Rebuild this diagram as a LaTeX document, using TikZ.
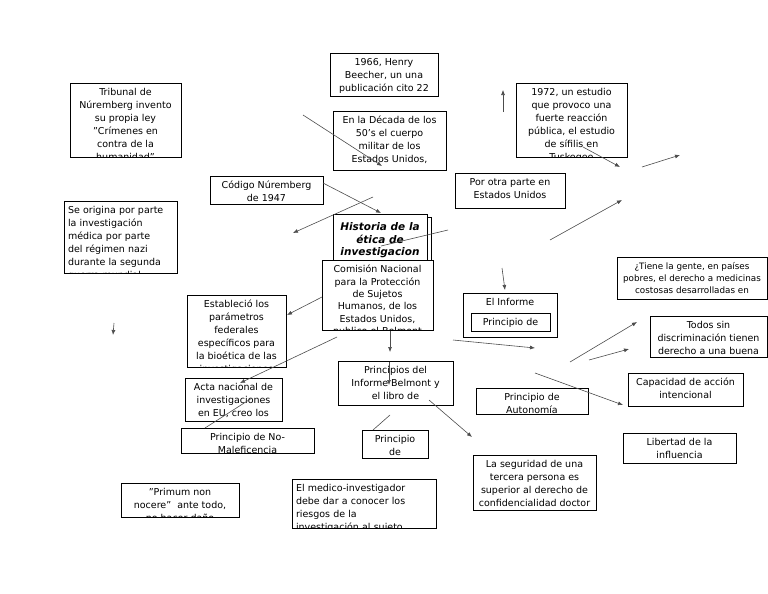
\documentclass[tikz,border=0pt]{standalone}
\usepackage{fontspec}
\setmainfont{DejaVu Sans}
\usetikzlibrary{arrows.meta}
\tikzset{
  boxframe/.style={draw=black, line width=0.9pt, inner sep=0pt, outer sep=0pt},
  txt/.style={inner sep=0pt, font=\fontsize{9.5}{13}\selectfont, align=center, anchor=north},
  conn/.style={draw=black!70, line width=0.6pt, -{Latex[length=5pt,width=4pt]}},
  plain/.style={draw=black!70, line width=0.6pt}
}
\newcommand\bx[7][]{%
  \pgfmathsetmacro\bw{#5-#3}\pgfmathsetmacro\bh{#6-#4}%
  \pgfmathsetmacro\bcx{(#3+#5)/2}\pgfmathsetmacro\bcy{(#4+#6)/2}%
  \pgfmathsetmacro\btw{#5-#3-8}\pgfmathsetmacro\bty{#4+3.5}%
  \fill[white] (#3,#4) rectangle (#5,#6);
  \begin{scope}
    \clip (#3,#4) rectangle (#5,#6);
    \node[txt,#1] at (\bcx,\bty) {\rule{0pt}{9pt}#7};
  \end{scope}
  \node[boxframe, minimum width=\bw pt, minimum height=\bh pt] (#2) at (\bcx,\bcy) {};
}
\begin{document}
\begin{tikzpicture}[x=1pt,y=-1pt]
\useasboundingbox (0,0) rectangle (768,594);

\bx{trib}{70}{83}{181}{157}{Tribunal de\\Núremberg invento\\su propia ley\\"Crímenes en\\contra de la\\humanidad"}
\bx{y1966}{330}{53}{438}{96}{1966, Henry\\Beecher, un una\\publicación cito 22}
\bx{dec}{333}{111}{446}{170}{En la Década de los\\50's el cuerpo\\militar de los\\Estados Unidos,}
\bx{y1972}{516}{83}{627}{157}{1972, un estudio\\que provoco una\\fuerte reacción\\pública, el estudio\\de sífilis en\\Tuskegee}
\bx[align=left, text width=\btw pt]{orig}{64}{201}{177}{273}{Se origina por parte\\la investigación\\médica por parte\\del régimen nazi\\durante la segunda\\guerra mundial}
\bx{cod}{210}{176}{323}{204}{Código Núremberg\\de 1947}

% Historia with shadow
\draw[line width=0.9pt] (336,217) rectangle (431,267);
\bx[font=\fontsize{10.5}{12.5}\selectfont\bfseries\itshape, yshift=-4pt]{hist}{333}{214}{427}{264}{Historia de la\\ética de\\investigacion}

\bx[font=\fontsize{9.5}{12.4}\selectfont]{com}{322}{260}{433}{330}{Comisión Nacional\\para la Protección\\de Sujetos\\Humanos, de los\\Estados Unidos,\\publico el Belmont}
\bx{otra}{455}{173}{565}{208}{Por otra parte en\\Estados Unidos}
\bx[font=\fontsize{8.8}{12}\selectfont]{tiene}{617}{257}{767}{299}{¿Tiene la gente, en países\\pobres, el derecho a medicinas\\costosas desarrolladas en}
\bx{inf}{463}{293}{557}{337}{El Informe}
\bx{pde}{471}{313}{550}{331}{Principio de}
\bx{todos}{650}{316}{767}{357}{Todos sin\\discriminación tienen\\derecho a una buena\\salud sin excepción}
\bx{estab}{187}{295}{286}{367}{Estableció los\\parámetros\\federales\\específicos para\\la bioética de las\\investigaciones}
\bx{acta}{185}{378}{282}{421}{Acta nacional de\\investigaciones\\en EU, creo los}
\bx{nomal}{181}{428}{314}{453}{Principio de No-\\Maleficencia}
\bx{pinf}{338}{361}{453}{405}{Principios del\\Informe Belmont y\\el libro de}
\bx{pde2}{362}{430}{428}{458}{Principio\\de}
\bx{auto}{476}{388}{588}{414}{Principio de\\Autonomía}
\bx{capa}{628}{373}{743}{406}{Capacidad de acción\\intencional}
\bx{lib}{623}{433}{736}{463}{Libertad de la\\influencia}
\bx{seg}{473}{455}{596}{510}{La seguridad de una\\tercera persona es\\superior al derecho de\\confidencialidad doctor}
\bx{prim}{121}{483}{239}{517}{"Primum non\\nocere"\ \ ante todo,\\no hacer daño}
\bx[align=left, text width=\btw pt]{med}{292}{479}{436}{528}{El medico-investigador\\debe dar a conocer los\\riesgos de la\\investigación al sujeto.}

% connector end points
\coordinate (a1) at (303,115); \coordinate (a2) at (382,166);
\coordinate (b1) at (323,183); \coordinate (b2) at (381,213);
\coordinate (c1) at (373,197); \coordinate (c2) at (293,233);
\coordinate (d1) at (448,230); \coordinate (d2) at (381,246);
\coordinate (e1) at (550,240); \coordinate (e2) at (622,200);
\coordinate (f1) at (583,147); \coordinate (f2) at (620,167);
\coordinate (g1) at (642,167); \coordinate (g2) at (680,155);
\coordinate (h1) at (503,112); \coordinate (h2) at (503,90);
\coordinate (i1) at (114,323); \coordinate (i2) at (113,335);
\coordinate (j1) at (322,297); \coordinate (j2) at (287,315);
\coordinate (k1) at (337,337); \coordinate (k2) at (240,383);
\coordinate (l1) at (390,331); \coordinate (l2) at (390,352);
\coordinate (m1) at (389,362); \coordinate (m2) at (389,385);
\coordinate (n1) at (453,340); \coordinate (n2) at (535,348);
\coordinate (o1) at (502,268); \coordinate (o2) at (505,290);
\coordinate (p1) at (570,362); \coordinate (p2) at (637,322);
\coordinate (q1) at (589,360); \coordinate (q2) at (629,349);
\coordinate (r1) at (535,373); \coordinate (r2) at (623,405);
\coordinate (s1) at (429,400); \coordinate (s2) at (472,437);
\coordinate (t1) at (390,415); \coordinate (t2) at (373,430);
\coordinate (u1) at (252,398); \coordinate (u2) at (205,428);

\draw[conn] (a1) -- (a2);
\draw[conn] (b1) -- (b2);
\draw[conn] (c1) -- (c2);
\draw[plain] (d1) -- (d2);
\draw[conn] (e1) -- (e2);
\draw[conn] (f1) -- (f2);
\draw[conn] (g1) -- (g2);
\draw[conn] (h1) -- (h2);
\draw[conn] (i1) -- (i2);
\draw[conn] (j1) -- (j2);
\draw[conn] (k1) -- (k2);
\draw[conn] (l1) -- (l2);
\draw[conn] (m1) -- (m2);
\draw[conn] (n1) -- (n2);
\draw[conn] (o1) -- (o2);
\draw[conn] (p1) -- (p2);
\draw[conn] (q1) -- (q2);
\draw[conn] (r1) -- (r2);
\draw[conn] (s1) -- (s2);
\draw[plain] (t1) -- (t2);
\draw[plain] (u1) -- (u2);
\end{tikzpicture}
\end{document}
